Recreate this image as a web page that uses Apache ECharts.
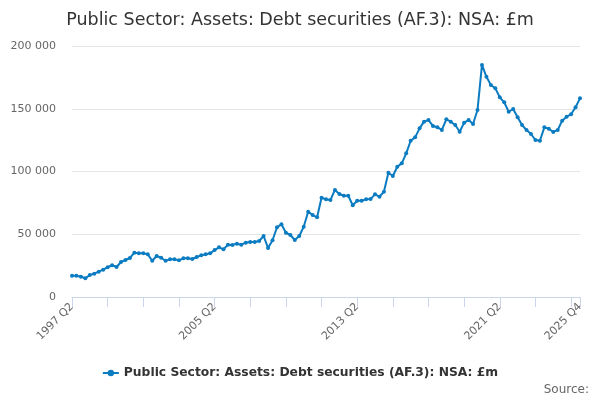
<!DOCTYPE html>
<html>
<head>
<meta charset="utf-8">
<script src="https://cdn.jsdelivr.net/npm/echarts@6/dist/echarts.min.js"></script>
<style>html,body{margin:0;padding:0;background:#fff}#c{width:600px;height:400px}</style>
</head>
<body>
<div id="c"></div>
<script>
const startYear = 1997, startQuarter = 2, endYear = 2025, endQuarter = 4;
const categories = [];
for (let y = startYear; y <= endYear; y++) {
  for (let q = 1; q <= 4; q++) {
    if (y === startYear && q < startQuarter) continue;
    if (y === endYear && q > endQuarter) continue;
    categories.push(y + ' Q' + q);
  }
}
const values = [
  17000, 17000, 16200, 14900, 17500, 18600, 20200, 21800, 23700, 25300,
  23900, 27900, 29500, 31100, 35300, 34800, 34800, 34000, 28900, 32700,
  31300, 28900, 30000, 30000, 29200, 30800, 30800, 30300, 31900, 33200,
  34000, 34800, 37400, 39600, 38000, 41700, 41400, 42500, 41700, 43300,
  43800, 43800, 44600, 48600, 39000, 45200, 55500, 57900, 51200, 49400,
  45400, 48600, 56000, 68000, 65300, 63500, 79100, 77800, 77300, 85300,
  82100, 80700, 80700, 73100, 76700, 76700, 77800, 78000, 81800, 79900,
  83900, 99000, 96400, 103800, 106500, 114500, 124500, 127200, 134400, 139700,
  141000, 136300, 135200, 133100, 141600, 139700, 137000, 131700, 138900, 141000,
  137800, 149000, 184900, 175500, 168900, 166300, 159100, 155100, 147600, 149800,
  143200, 137000, 133100, 129900, 125100, 124500, 135200, 134100, 131500, 133100,
  140500, 143700, 145600, 151200, 158300
];
const seriesName = 'Public Sector: Assets: Debt securities (AF.3): NSA: £m';
const titleText = 'Public Sector: Assets: Debt securities (AF.3): NSA: £m';
const sourceText = 'Source:';
const last = categories.length - 1;
const font = '"DejaVu Sans", Verdana, sans-serif';

const chart = echarts.init(document.getElementById('c'), null, {renderer: 'canvas'});
chart.setOption({
  animation: false,
  textStyle: {fontFamily: font},
  title: {
    text: titleText, left: 'center', top: 6,
    textStyle: {fontFamily: font, fontSize: 17.5, fontWeight: 'normal', color: '#333333'}
  },
  legend: {
    bottom: 16, left: 'center',
    itemWidth: 16, itemHeight: 8, itemGap: 10,
    textStyle: {fontFamily: font, fontSize: 12.3, fontWeight: 'bold', color: '#333333'}
  },
  graphic: [{
    type: 'text', right: 11, bottom: 4,
    style: {text: sourceText, font: '12px ' + font, fill: '#666666'}
  }],
  grid: {left: 72, right: 20, top: 46, bottom: 103},
  xAxis: {
    type: 'category', data: categories, boundaryGap: false,
    axisLine: {lineStyle: {color: '#ccd6eb'}},
    axisTick: {length: 10, lineStyle: {color: '#ccd6eb'},
      interval: (i) => i % 8 === 0 || i === last},
    axisLabel: {rotate: 45, color: '#666666', fontSize: 11, fontFamily: font, margin: 8,
      interval: (i) => i % 32 === 0 || i === last},
    splitLine: {show: false}
  },
  yAxis: {
    type: 'value', min: 0, max: 200000, interval: 50000,
    axisLine: {show: false}, axisTick: {show: false},
    axisLabel: {color: '#666666', fontSize: 11, fontFamily: font, margin: 16,
      formatter: (v) => String(v).replace(/\B(?=(\d{3})+(?!\d))/g, ' ')},
    splitLine: {lineStyle: {color: '#e6e6e6'}}
  },
  series: [{
    name: seriesName, type: 'line', data: values,
    symbol: 'circle', symbolSize: 4, showSymbol: true, showAllSymbol: true,
    lineStyle: {width: 2, color: '#0c7cc2'},
    itemStyle: {color: '#0c7cc2'}
  }]
});
</script>
</body>
</html>
